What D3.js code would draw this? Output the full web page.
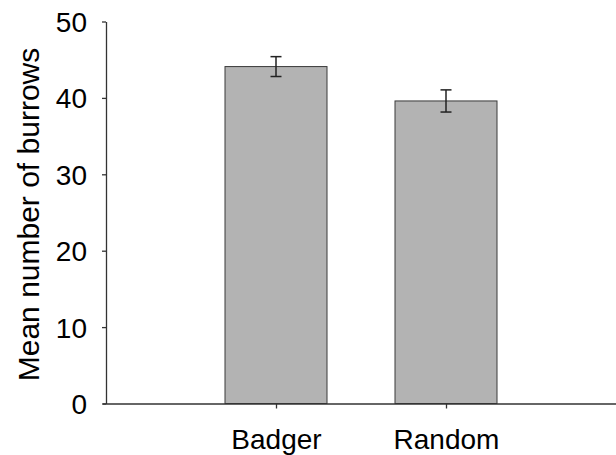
<!DOCTYPE html>
<html>
<head>
<meta charset="utf-8">
<script src="https://cdn.jsdelivr.net/npm/d3@7"></script>
<style>
  body { margin: 0; background: #fff; }
  text { font-family: "Liberation Sans", Arial, sans-serif; fill: #000; }
</style>
</head>
<body>
<svg id="chart" width="616" height="455"></svg>
<script>
// data
var groups = ["Badger", "Random"];
var means = [44.1, 39.6];
var errs = [1.3, 1.45];
var yTicks = [0, 10, 20, 30, 40, 50];

var svg = d3.select("#chart");

var x = d3.scalePoint()
  .domain(groups)
  .range([106, 616])
  .padding(1);

var y = d3.scaleLinear()
  .domain([0, 50])
  .range([403.5, 21.5]);

var barW = x.step() * 0.6;

// bars
svg.selectAll("rect.bar")
  .data(groups)
  .enter().append("rect")
  .attr("class", "bar")
  .attr("x", function(d) { return x(d) - barW / 2; })
  .attr("y", function(d, i) { return y(means[i]); })
  .attr("width", barW)
  .attr("height", function(d, i) { return y(0) - y(means[i]); })
  .style("fill", "#b3b3b3")
  .style("stroke", "#3a3a3a")
  .style("stroke-width", 1);

// error bars
var eb = svg.selectAll("g.err")
  .data(groups)
  .enter().append("g")
  .attr("class", "err")
  .style("stroke", "#222")
  .style("stroke-width", 1.5);

eb.append("line")
  .attr("x1", function(d) { return x(d); })
  .attr("x2", function(d) { return x(d); })
  .attr("y1", function(d, i) { return y(means[i] + errs[i]); })
  .attr("y2", function(d, i) { return y(means[i] - errs[i]); });

[1, -1].forEach(function(s) {
  eb.append("line")
    .attr("x1", function(d) { return x(d) - 5.5; })
    .attr("x2", function(d) { return x(d) + 5.5; })
    .attr("y1", function(d, i) { return y(means[i] + s * errs[i]); })
    .attr("y2", function(d, i) { return y(means[i] + s * errs[i]); });
});

// y axis
var yAxis = svg.append("g")
  .attr("transform", "translate(106,0)")
  .call(d3.axisLeft(y).tickValues(yTicks).tickSize(4).tickPadding(15).tickSizeOuter(0));

yAxis.selectAll("text")
  .style("font-size", "28px")
  .attr("dy", "0.36em");

// x axis
var xAxis = svg.append("g")
  .attr("transform", "translate(0," + y(0) + ")")
  .call(d3.axisBottom(x).tickSize(5).tickPadding(21).tickSizeOuter(0));

xAxis.selectAll("text")
  .style("font-size", "28px");

xAxis.select(".domain").attr("d", "M103,0.5H616");

svg.selectAll(".domain, .tick line")
  .style("stroke", "#333")
  .style("stroke-width", 1.3);

// y label
svg.append("text")
  .attr("transform", "translate(38.5," + ((y(0) + y(50)) / 2 + 2) + ") rotate(-90)")
  .attr("text-anchor", "middle")
  .style("font-size", "30px")
  .text("Mean number of burrows");
</script>
</body>
</html>
